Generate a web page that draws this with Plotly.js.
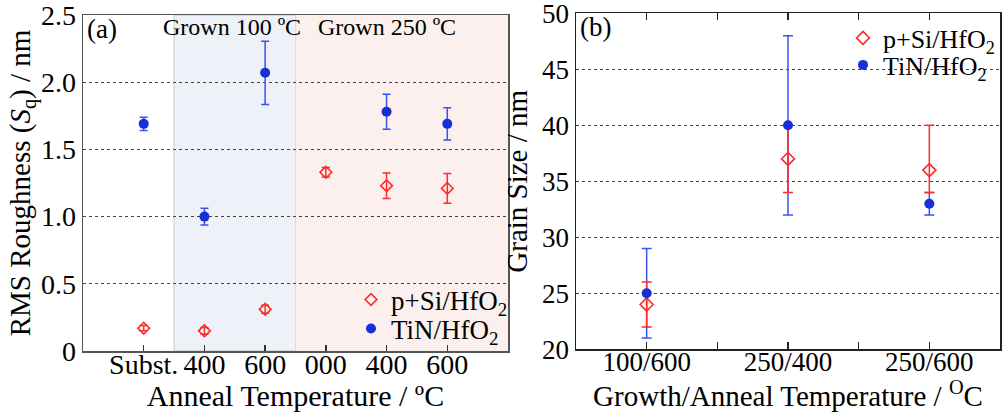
<!DOCTYPE html>
<html>
<head>
<meta charset="utf-8">
<script src="https://cdn.plot.ly/plotly-3.0.1.min.js"></script>
<style>
  html, body { margin: 0; padding: 0; background: #fff; overflow: hidden; }
  #chart { width: 1002px; height: 412px; }
</style>
</head>
<body>
<div id="chart"></div>
<script>
// (a) RMS roughness vs anneal temperature
const roughLabels = ['Subst.', '400', '600', '000', '400', '600'];
const roughSi = [0.17, 0.15, 0.31, 1.33, 1.23, 1.21];
const roughSiErr = [0.02, 0.025, 0.03, 0.035, 0.095, 0.11];
const roughTiN = [1.69, 1.00, 2.07, null, 1.78, 1.69];
const roughTiNErr = [0.05, 0.063, 0.235, null, 0.13, 0.12];

// (b) grain size vs growth/anneal temperature
const grainLabels = ['100/600', '250/400', '250/600'];
const grainSi = [24, 37, 36];
const grainSiErrPlus = [2, 3, 4];
const grainSiErrMinus = [2, 3, 2];
const grainTiN = [25, 40, 33];
const grainTiNErr = [4, 8, 1];

const serif = '"Liberation Serif", "Times New Roman", serif';
const red = '#ff2a2a';
const blue = '#1530d8';
const blueBar = '#3a50f0';

const roughX = roughLabels.map((_, i) => i);
const grainX = grainLabels.map((_, i) => i);

const siName = 'p+Si/HfO<sub>2</sub>';
const tinName = 'TiN/HfO<sub>2</sub>';

const traces = [
  // error bars first so every marker sits above all bars
  { x: roughX, y: roughTiN, xaxis: 'x', yaxis: 'y', mode: 'markers', showlegend: false,
    marker: { size: 1, opacity: 0 }, hoverinfo: 'skip',
    error_y: { type: 'data', array: roughTiNErr, color: blueBar, thickness: 1.5, width: 4 } },
  { x: roughX, y: roughSi, xaxis: 'x', yaxis: 'y', mode: 'markers', showlegend: false,
    marker: { size: 1, opacity: 0 }, hoverinfo: 'skip',
    error_y: { type: 'data', array: roughSiErr, color: red, thickness: 1.5, width: 4 } },
  { x: roughX, y: roughSi, xaxis: 'x', yaxis: 'y', mode: 'markers', name: siName,
    legend: 'legend',
    marker: { symbol: 'diamond-open', size: 9, color: red, line: { width: 1.6, color: red } } },
  { x: roughX, y: roughTiN, xaxis: 'x', yaxis: 'y', mode: 'markers', name: tinName,
    legend: 'legend2',
    marker: { symbol: 'circle', size: 10, color: blue } },

  { x: grainX, y: grainTiN, xaxis: 'x2', yaxis: 'y2', mode: 'markers', showlegend: false,
    marker: { size: 1, opacity: 0 }, hoverinfo: 'skip',
    error_y: { type: 'data', array: grainTiNErr, color: blueBar, thickness: 1.5, width: 5 } },
  { x: grainX, y: grainSi, xaxis: 'x2', yaxis: 'y2', mode: 'markers', showlegend: false,
    marker: { size: 1, opacity: 0 }, hoverinfo: 'skip',
    error_y: { type: 'data', symmetric: false, array: grainSiErrPlus, arrayminus: grainSiErrMinus,
               color: red, thickness: 1.5, width: 5 } },
  { x: grainX, y: grainSi, xaxis: 'x2', yaxis: 'y2', mode: 'markers', name: siName,
    legend: 'legend3',
    marker: { symbol: 'diamond-open', size: 10, color: red, line: { width: 1.6, color: red } } },
  { x: grainX, y: grainTiN, xaxis: 'x2', yaxis: 'y2', mode: 'markers', name: tinName,
    legend: 'legend4',
    marker: { symbol: 'circle', size: 10, color: blue } }
];

const tickFontA = { family: serif, size: 28, color: '#000' };
const tickFontB = { family: serif, size: 27, color: '#000' };

function legendAt(px, py, size) {
  return {
    x: px / 1002, y: 1 - py / 412, xanchor: 'left', yanchor: 'middle',
    bgcolor: 'rgba(0,0,0,0)', font: { family: serif, size: size, color: '#000' },
    tracegroupgap: 0, itemwidth: 30
  };
}

const layout = {
  width: 1002, height: 412,
  margin: { l: 0, r: 0, t: 0, b: 0, autoexpand: false },
  paper_bgcolor: '#fff', plot_bgcolor: 'rgba(0,0,0,0)',
  font: { family: serif, color: '#000' },
  xaxis: {
    domain: [83 / 1002, 508 / 1002], anchor: 'y',
    range: [-1, 6], tickvals: roughX, ticktext: roughLabels,
    ticks: 'inside', ticklen: 6, tickwidth: 1.5, tickcolor: '#333',
    ticklabelstandoff: -12,
    showline: true, linecolor: '#555', linewidth: 1.5, mirror: true,
    showgrid: false, zeroline: false, tickfont: tickFontA,
    title: { text: 'Anneal Temperature / ºC', font: { family: serif, size: 30, color: '#000' }, standoff: 0 }
  },
  yaxis: {
    domain: [61 / 412, 397 / 412], anchor: 'x',
    range: [0, 2.5], tickvals: [0, 0.5, 1, 1.5, 2, 2.5],
    ticktext: ['0', '0.5', '1.0', '1.5', '2.0', '2.5'],
    showline: true, linecolor: '#555', linewidth: 1.5, mirror: true,
    showgrid: true, gridcolor: '#444', griddash: 'dot', gridwidth: 1.2,
    zeroline: false, ticks: '', tickfont: tickFontA, ticklabeloverflow: 'allow',
    title: { text: 'RMS Roughness (<i>S</i><sub>q</sub>) / nm', font: { family: serif, size: 29, color: '#000' }, standoff: 2 }
  },
  xaxis2: {
    domain: [576 / 1002, 1000 / 1002], anchor: 'y2',
    range: [-0.5, 2.5], tickvals: [0, 0.5, 1, 1.5, 2],
    ticktext: [grainLabels[0], '', grainLabels[1], '', grainLabels[2]],
    ticks: 'inside', ticklen: 7, tickwidth: 1.5, tickcolor: '#222',
    ticklabelstandoff: -12,
    showline: true, linecolor: '#222', linewidth: 1.5, mirror: 'ticks',
    showgrid: false, zeroline: false, tickfont: tickFontB,
    title: { text: 'Growth/Anneal Temperature / <sup>O</sup>C', font: { family: serif, size: 29, color: '#000' }, standoff: 3 }
  },
  yaxis2: {
    domain: [62.7 / 412, 398.7 / 412], anchor: 'x2',
    range: [20, 50], tickvals: [20, 25, 30, 35, 40, 45, 50],
    showline: true, linecolor: '#222', linewidth: 1.5, mirror: true,
    showgrid: true, gridcolor: '#444', griddash: 'dot', gridwidth: 1.2,
    zeroline: false, ticks: '', tickfont: tickFontB, ticklabeloverflow: 'allow',
    title: { text: 'Grain Size / nm', font: { family: serif, size: 29, color: '#000' }, standoff: 6 }
  },
  legend: legendAt(351, 300, 27),
  legend2: legendAt(351, 329, 27),
  legend3: legendAt(843, 38, 26),
  legend4: legendAt(843, 65, 26),
  shapes: [
    { type: 'rect', xref: 'x', yref: 'y domain', x0: 0.5, x1: 2.5, y0: 0, y1: 1,
      fillcolor: '#eef2f8', line: { color: '#c4c6c9', width: 1 }, layer: 'below' },
    { type: 'rect', xref: 'x', yref: 'y domain', x0: 2.5, x1: 6, y0: 0, y1: 1,
      fillcolor: '#fbf0ee', line: { width: 0 }, layer: 'below' }
  ],
  annotations: [
    { text: '(a)', xref: 'x domain', yref: 'y domain', x: 0.005, y: 1.01,
      xanchor: 'left', yanchor: 'top', showarrow: false, font: { family: serif, size: 27 } },
    { text: 'Grown 100 ºC', xref: 'x', yref: 'y domain', x: 1.46, y: 1.01,
      xanchor: 'center', yanchor: 'top', showarrow: false, font: { family: serif, size: 24 } },
    { text: 'Grown 250 ºC', xref: 'x', yref: 'y domain', x: 4.01, y: 1.01,
      xanchor: 'center', yanchor: 'top', showarrow: false, font: { family: serif, size: 24 } },
    { text: '(b)', xref: 'x2 domain', yref: 'y2 domain', x: 0.005, y: 1.01,
      xanchor: 'left', yanchor: 'top', showarrow: false, font: { family: serif, size: 27 } }
  ],
  showlegend: true
};

Plotly.newPlot('chart', traces, layout, { displayModeBar: false, staticPlot: true });
</script>
</body>
</html>
